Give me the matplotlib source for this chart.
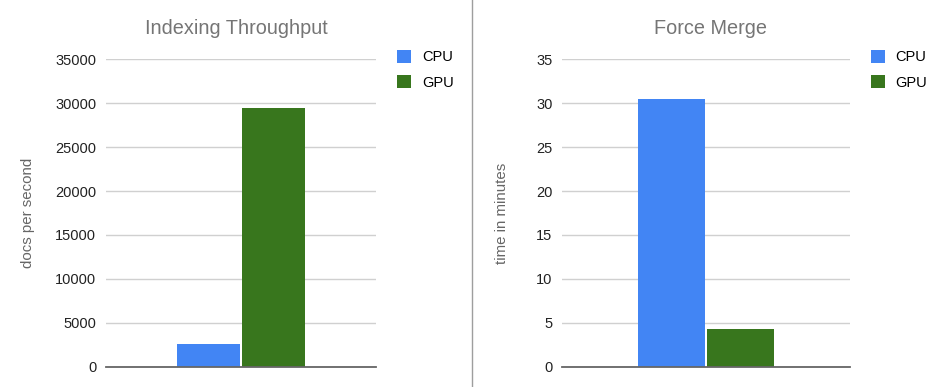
import matplotlib
matplotlib.use("Agg")
import matplotlib.pyplot as plt
from matplotlib.lines import Line2D

plt.rcParams['font.family'] = ['Liberation Sans', 'DejaVu Sans']

# data
series = ["CPU", "GPU"]
colors = ["#4285F4", "#38761D"]

throughput = [2600, 29500]        # docs per second
merge_minutes = [30.5, 4.3]       # time in minutes

throughput_ticks = [0, 5000, 10000, 15000, 20000, 25000, 30000, 35000]
merge_ticks = [0, 5, 10, 15, 20, 25, 30, 35]

fig = plt.figure(figsize=(9.48, 3.87), dpi=100)

W, H = 948, 387


def px_axes(x0, x1, y_top, y_bot):
    return fig.add_axes([x0 / W, 1 - y_bot / H, (x1 - x0) / W, (y_bot - y_top) / H])


def draw_panel(ax, values, ticks, ylabel, title, title_x, legend_x):
    bw = 0.465
    gap = 0.02
    offsets = [-(bw + gap) / 2, (bw + gap) / 2]
    for v, off, c, name in zip(values, offsets, colors, series):
        ax.bar(off, v, width=bw, color=c, label=name, zorder=3)
    ax.set_xlim(-1, 1)
    ax.set_ylim(ticks[0], ticks[-1])
    ax.set_yticks(ticks)
    ax.set_yticklabels([str(t) for t in ticks], fontsize=10.5, color="#222222")
    ax.set_xticks([])
    ax.tick_params(axis="y", length=0, pad=7)
    ax.grid(axis="y", color="#d0d0d0", lw=1, zorder=0)
    for s in ["top", "right", "left"]:
        ax.spines[s].set_visible(False)
    ax.spines["bottom"].set_color("#666666")
    ax.spines["bottom"].set_linewidth(1.3)
    ax.spines["bottom"].set_zorder(4)
    ax.set_ylabel(ylabel, fontsize=10.8, color="#666666")
    fig.text(title_x / W, 1 - 28 / H, title, fontsize=14.3, color="#757575",
             ha="center", va="center")
    ax.legend(loc="upper left", bbox_to_anchor=(legend_x / W, 1 - 50 / H),
              bbox_transform=fig.transFigure, frameon=False, fontsize=10.5,
              handlelength=0.95, handleheight=0.95, handletextpad=0.75,
              labelspacing=0.75, borderpad=0, borderaxespad=0)


ax1 = px_axes(106, 375.7, 59.3, 366.7)
draw_panel(ax1, throughput, throughput_ticks, "docs per second",
           "Indexing Throughput", 236.5, 397)
ax1.yaxis.set_label_coords(-(106 - 35) / 269.7, 0.5)

ax2 = px_axes(562.3, 849.7, 59.3, 366.7)
draw_panel(ax2, merge_minutes, merge_ticks, "time in minutes",
           "Force Merge", 710.5, 870.7)
ax2.yaxis.set_label_coords(-(562.3 - 509) / 287.4, 0.5)

fig.add_artist(Line2D([471.5 / W, 471.5 / W], [0, 1], color="#9e9e9e", lw=1))

fig.savefig("out.png", dpi=100)
